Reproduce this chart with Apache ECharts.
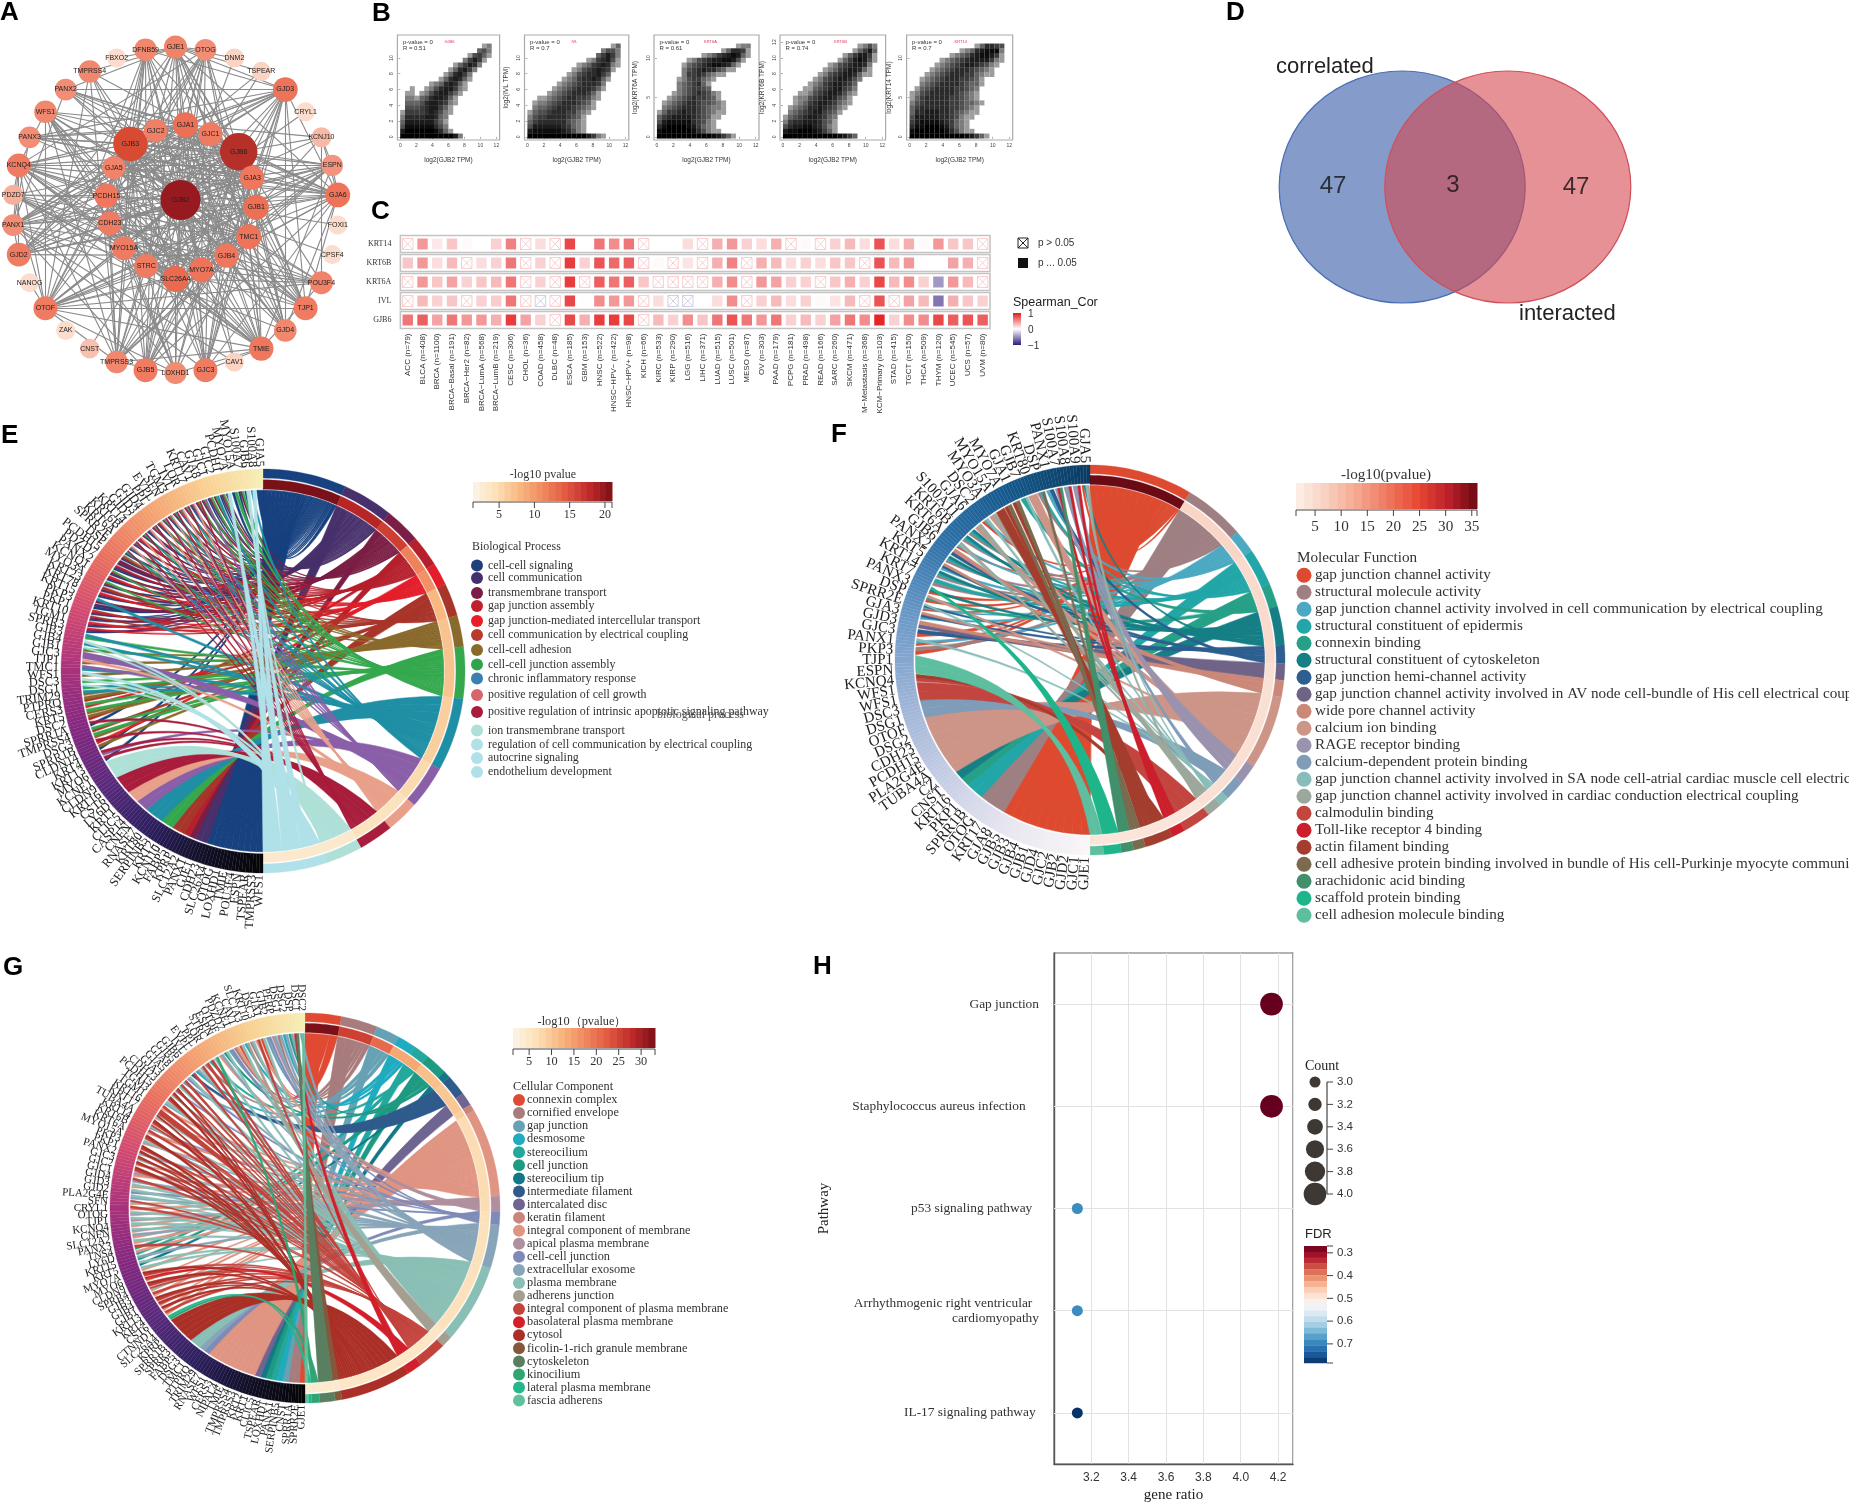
<!DOCTYPE html>
<html><head><meta charset="utf-8">
<style>html,body{margin:0;padding:0;background:#fff}#c{width:1849px;height:1504px}</style>
<script src="https://cdn.jsdelivr.net/npm/echarts@6/dist/echarts.min.js"></script>
</head><body><div id="c"></div>
<script>
/* ---------- PANEL A: network (hand-estimated) ---------- */
const outerNodes=['GJE1','OTOG','DNM2','TSPEAR','GJD3','CRYL1','KCNJ10','ESPN','GJA6','FOXI1','CPSF4','POU3F4','TJP1','GJD4','TMIE','CAV1','GJC3','LOXHD1','GJB5','TMPRSS3','CNST','ZAK','OTOF','NANOG','GJD2','PANX1','PDZD7','KCNQ4','PANX3','WFS1','PANX2','TMPRSS4','FBXO2','DFNB59'];
const outerDegree=[18,15,7,7,22,6,10,14,22,6,6,18,20,17,21,7,20,16,20,17,9,6,20,6,20,15,11,20,15,17,15,17,6,17];
const innerNodes=['GJB2','GJA1','GJC1','GJB6','GJA3','GJB1','TMC1','GJB4','MYO7A','SLC26A4','STRC','MYO15A','CDH23','PCDH15','GJA5','GJB3','GJC2'];
const innerDegree=[49,23,20,45,21,23,22,21,22,25,20,20,20,21,18,40,19];
const innerRadius=[11.2,85.6,83.4,86,83.2,80.7,78,68.4,65.4,69,63.2,64.3,67,70.5,74.8,80,81.8];
const innerAngle=[26.6,6.7,24.8,47.3,67.1,88.1,110,131.8,156.6,180,207.6,233.4,258.5,281.7,304.5,325.7,345.9];
const edgeTable=[
'GJB2 GJA1 GJC1 GJB6 GJA3 GJB1 TMC1 GJB4 MYO7A SLC26A4 STRC MYO15A CDH23 PCDH15 GJA5 GJB3 GJC2 GJE1 OTOG GJD3 CRYL1 KCNJ10 ESPN GJA6 POU3F4 TJP1 GJD4 TMIE GJC3 LOXHD1 GJB5 TMPRSS3 OTOF GJD2 PANX1 PDZD7 KCNQ4 PANX3 WFS1 PANX2 TMPRSS4 DFNB59 CNST FOXI1 CPSF4 CAV1 DNM2 TSPEAR',
'GJB6 GJA1 GJC1 GJA3 GJB1 TMC1 GJB4 MYO7A SLC26A4 STRC MYO15A CDH23 PCDH15 GJA5 GJB3 GJC2 GJE1 OTOG GJD3 KCNJ10 ESPN GJA6 POU3F4 TJP1 GJD4 TMIE GJC3 LOXHD1 GJB5 TMPRSS3 OTOF GJD2 PANX1 KCNQ4 PANX3 WFS1 PANX2 TMPRSS4 DFNB59 PDZD7',
'GJB3 GJA1 GJC1 GJA3 GJB1 TMC1 GJB4 MYO7A SLC26A4 STRC MYO15A CDH23 PCDH15 GJA5 GJC2 GJE1 GJD3 ESPN GJA6 TJP1 GJD4 TMIE GJC3 GJB5 OTOF GJD2 PANX1 KCNQ4 PANX3 WFS1 PANX2 TMPRSS4 TMPRSS3 DFNB59 OTOG',
'GJA1 GJC1 GJA3 GJB1 GJB4 GJA5 GJC2 GJE1 GJD3 GJA6 TJP1 GJD4 GJC3 GJB5 GJD2 PANX1 PANX3 PANX2 CAV1 KCNQ4 TMIE',
'GJC1 GJA3 GJB1 GJB4 GJA5 GJC2 GJE1 GJD3 GJA6 TJP1 GJD4 GJC3 GJB5 GJD2 PANX1 PANX2',
'GJA3 GJB1 GJB4 GJA5 GJC2 GJE1 GJD3 GJA6 TJP1 GJD4 GJC3 GJB5 GJD2 PANX1 PANX3',
'GJB1 GJB4 GJA5 GJC2 GJE1 GJD3 GJA6 TJP1 GJD4 GJC3 GJB5 GJD2 PANX1 PANX2 TMIE OTOF',
'TMC1 MYO7A SLC26A4 STRC MYO15A CDH23 PCDH15 TMIE LOXHD1 OTOF ESPN KCNQ4 POU3F4 TMPRSS3 WFS1 PDZD7 OTOG DFNB59',
'GJB4 GJA5 GJC2 GJE1 GJD3 GJA6 GJD4 GJC3 GJB5 GJD2 PANX1 TJP1',
'MYO7A SLC26A4 STRC MYO15A CDH23 PCDH15 TMIE LOXHD1 OTOF ESPN KCNQ4 POU3F4 TMPRSS3 WFS1 PDZD7 OTOG DFNB59 GJA6',
'SLC26A4 STRC MYO15A CDH23 PCDH15 TMIE LOXHD1 OTOF ESPN KCNQ4 POU3F4 TMPRSS3 WFS1 PDZD7 OTOG DFNB59 TMPRSS4 GJD3',
'STRC MYO15A CDH23 PCDH15 TMIE LOXHD1 OTOF ESPN KCNQ4 TMPRSS3 WFS1 OTOG DFNB59 PDZD7',
'MYO15A CDH23 PCDH15 TMIE LOXHD1 OTOF ESPN KCNQ4 POU3F4 TMPRSS3 WFS1 PDZD7 OTOG DFNB59',
'CDH23 PCDH15 TMIE LOXHD1 OTOF ESPN KCNQ4 POU3F4 TMPRSS3 WFS1 PDZD7 OTOG DFNB59 TJP1',
'PCDH15 TMIE LOXHD1 OTOF ESPN KCNQ4 TMPRSS3 WFS1 PDZD7 OTOG DFNB59 TSPEAR',
'GJA5 GJC2 GJE1 GJD3 GJA6 TJP1 GJD4 GJC3 GJB5 GJD2 PANX1',
'GJC2 GJE1 GJD3 GJA6 TJP1 GJD4 GJC3 GJB5 GJD2 PANX1 PANX2 PANX3',
'GJE1 GJD3 GJA6 GJD4 GJC3 GJB5 GJD2 GJE1 OTOG TSPEAR TMPRSS4',
'GJD3 GJA6 GJD4 GJC3 GJB5 GJD2 PANX1 PANX2 PANX3 TJP1 DFNB59',
'GJA6 GJD4 GJC3 GJB5 GJD2 PANX1 PANX3 TJP1 ESPN KCNJ10 OTOF KCNQ4',
'OTOF TMIE LOXHD1 ESPN KCNQ4 POU3F4 TMPRSS3 WFS1 PDZD7 OTOG DFNB59 TJP1 NANOG TMPRSS4',
'KCNQ4 TMIE LOXHD1 ESPN POU3F4 TMPRSS3 WFS1 PDZD7 OTOG PANX1 GJD2',
'TMIE LOXHD1 ESPN POU3F4 TMPRSS3 WFS1 PDZD7 OTOG DFNB59 GJC3',
'PANX1 PANX2 PANX3 GJD2 GJD4 GJC3 GJB5 TJP1 CAV1','TMPRSS3 TMPRSS4 LOXHD1 ESPN OTOG DFNB59 WFS1','KCNJ10 GJA6 POU3F4 ESPN WFS1 TMPRSS3','GJE1 GJC3 OTOG PANX2 FBXO2 DNM2 TSPEAR'
];
/* ---------- PANEL B: density of the point clouds, digit 0-9 per cell, rows listed top to bottom ---------- */
const bGenes=['GJB6','IVL','KRT6A','KRT6B','KRT14'];
const bR=['R = 0.51','R = 0.7','R = 0.61','R = 0.74','R = 0.7'];
const densityGJB6=['00000000000000000120','00000000000000003420','00000000000000145310','00000000000002575100','00000000000135762000','00000000001367520000','00000000013675200000','00000000136763100000','00000012367631000000','00100124677521000000','01101246775310000000','02213467763100000000','03334677652100000000','04445677531000000000','15555676421000000000','26666776320000000000','37777775310000000000','48888886420000000000','79999998631000000000','99999999999720000000'];
const densityIVL=['00000000000000000130','00000000000000024420','00000000000000357520','00000000000012567410','00000000001235676210','00000000012456765100','00000000124566753000','00000001235667631000','00000012345666520000','00000123456665310000','00001234566653100000','00112345665542100000','01223456665431000000','02334566654321000000','13445666553210000000','24556666543100000000','35666666432100000000','47777776532100000000','78888887642100000000','99999999999975210000'];
const densityKRT6A=['00000000000000001220','00000000000001366510','00000000012356787310','00000012456778874100','00000134567887631000','00000245676643110000','00000255653211000000','00001245532100000000','00002345631000000000','00002345543000000000','00012345654210000000','00123456554310000000','01234566544321000000','02345666543221000000','13556766543211000000','35677776543110000000','47888886542100000000','68999987532100000000','89999998642110000000','99999999999875310000'];
const densityKRT6B=['00000000000000012420','00000000000000135730','00000000000013577510','00000000000135787410','00000000012456776200','00000000123567763100','00000001245677631100','00000012456776420000','00000123567765300000','00001134567754200000','00011245677642100000','00122456776431000000','00123567765321000000','01234667654210000000','02345677543100000000','13456776532000000000','25667776431000000000','46778876421000000000','78899987531000000000','99999999999875300000'];
const densityKRT14=['00000000000001366540','00000000001236788820','00000000123467887510','00000012345677775210','00000123456776542100','00001234566654321000','00012345666553211000','00123456665543100000','00234566665433100000','01345666655432000000','12456666654321000000','13566666554321000000','24566666554332100000','35666666554321000000','36677766543211000000','47777766542110000000','57888876532100000000','68899987532100000000','89999998642110000000','99999999999875310000'];
const bDensity=[densityGJB6,densityIVL,densityKRT6A,densityKRT6B,densityKRT14];
/* ---------- PANEL C ---------- */
const cancers=['ACC (n=79)','BLCA (n=408)','BRCA (n=1100)','BRCA−Basal (n=191)','BRCA−Her2 (n=82)','BRCA−LumA (n=568)','BRCA−LumB (n=219)','CESC (n=306)','CHOL (n=36)','COAD (n=458)','DLBC (n=48)','ESCA (n=185)','GBM (n=153)','HNSC (n=522)','HNSC−HPV− (n=422)','HNSC−HPV+ (n=98)','KICH (n=66)','KIRC (n=533)','KIRP (n=290)','LGG (n=516)','LIHC (n=371)','LUAD (n=515)','LUSC (n=501)','MESO (n=87)','OV (n=303)','PAAD (n=179)','PCPG (n=181)','PRAD (n=498)','READ (n=166)','SARC (n=260)','SKCM (n=471)','M−Metastasis (n=368)','KCM−Primary (n=103)','STAD (n=415)','TGCT (n=150)','THCA (n=509)','THYM (n=120)','UCEC (n=545)','UCS (n=57)','UVM (n=80)'];
const cRows=['KRT14','KRT6B','KRT6A','IVL','GJB6'];
const corKRT14=[.05,.45,.1,.25,.02,0,.2,.55,.05,.15,.05,.8,0,.6,.5,.6,.05,0,0,.15,.02,.35,.45,.2,.15,.35,.1,.02,.05,.2,.3,.15,.75,.15,.35,.02,.45,.25,.25,.05];
const corKRT6B=[.25,.45,.15,.3,.08,.15,.2,.6,.05,.2,.1,.85,.2,.75,.65,.7,.05,.02,.05,.12,.03,.35,.55,.1,.35,.3,.15,.2,.15,.25,.25,.05,.75,.3,.45,.01,0,.4,.35,.08];
const corKRT6A=[.03,.45,.25,.4,.2,.25,.3,.6,.1,.2,.1,.85,.05,.7,.6,.7,.25,.02,.08,.05,.02,.35,.5,.15,.45,.4,.2,.2,.08,.25,.35,.2,.8,.3,.5,.2,-.45,.45,.3,.02];
const corIVL=[.03,.3,.2,.25,.05,.2,.22,.6,.03,-.05,.02,.8,.01,.5,.45,.45,.1,.15,-.1,-.1,0,.15,.5,.15,.2,.3,.15,.2,.02,.12,.3,.1,.75,.03,.4,.3,-.6,.35,.25,.2];
const corGJB6=[.6,.7,.4,.6,.45,.45,.35,.85,.4,.2,.05,.8,.35,.85,.85,.8,.03,.3,.2,.5,.25,.6,.75,.6,.45,.6,.2,.3,.2,.4,.6,.5,.95,.2,.5,.5,.8,.7,.75,.7];
const nsKRT14=[0,8,10,16,20,26,28,39];
const nsKRT6B=[4,8,10,16,18,20,23,31,39];
const nsKRT6A=[0,8,10,12,17,18,19,20,23,28,39];
const nsIVL=[0,4,8,9,10,16,18,19,23,31,33];
const nsGJB6=[10,16];
/* ---------- PANEL D ---------- */
const vennCenters=[[142.2,187],[247.8,187]];
const vennCounts=[47,3,47];
const vennCountAt=[[73,186],[193,185],[316,187]];
const vennNames=['correlated','interacted'];
/* ---------- PANEL E ---------- */
const legendE=['cell-cell signaling','cell communication','transmembrane transport','gap junction assembly','gap junction-mediated intercellular transport','cell communication by electrical coupling','cell-cell adhesion','cell-cell junction assembly','chronic inflammatory response','positive regulation of cell growth','positive regulation of intrinsic apoptotic signaling pathway','ion transmembrane transport','regulation of cell communication by electrical coupling','autocrine signaling','endothelium development'];
const legendColE=['#1e3f7a','#45306e','#7b1e45','#c0202c','#ec1c28','#b83a2d','#8a6a2c','#2fa34f','#3a7fb0','#d9646a','#a81c3c','#aee0d8','#b0e0e8','#b0e0e8','#b0e0e8'];
const ringColE=['#17417f','#47306b','#7b1e45','#b5202c','#e31e2a','#a8352a','#8a6a2c','#35a84e','#1f8fa5','#8a5fa8','#e8a08a','#a81c3c','#aee0d8','#b0e0e8','#b0e0e8','#b0e0e8'];
const spanE=[24,14.7,10.3,9,6.5,9.5,9,15,21,12.6,9.4,10,10.7,6.1,6.1,6.1];
const pvalE=[21,18,16,11,10,7,6,6,5,4,3,3,2,2,2,2];
const genesE=['WFS1','TMPRSS3','TSPEAR','ESPN','POU3F4','TMIE','LOXHD1','OTOG','SLC26A4','CDH23','GJE1','PANX1','SLC12A2','KPRP','FABP5','KCNJ10','KRT2','SERPINB5','KRT80','RNASE7','CNFN','CASP14','CLIC5','KRT1','LY6D','CST6','KRT16','CLDN9','KCNE1','MYO6','KRT13','KRT4','CLDN14','SPRR1B','DSG3','TMPRSS4','SPRR1A','DSC2','KRT5','CERS3','PTPRQ','TRIM29','DSG1','DSC3','WFS1','TMC1','TJP1','GJC3','GJB1','GJB4','GJB3','SPRR3','TGM1','KRT10','PKP1','PKP3','KRT15','KRT78','KRT23','MYO3A','KCNQ1','PANX2','PDZD7','PCDH15','DSP','SPRR2E','KRT6A','KRT6B','KRT14','GJD2','GJD3','GJD4','PPL','EVPL','SFN','TGM3','IVL','LOR','KRT17','CAV1','GJA8','GJC1','GJC2','PCDH1','MYO7A','MYO15A','S100A7','GJB6','S100A8','GJA5'];
const linksE=['0','0','0','0','0','0','0','0','0','1','1','2','3','5','5','7','7','8','8','8','9','9','a','a','b','b','b','c','c','c','0b','9b','06','4b','76','57','0b','36','67','47','56','68','78c','7c','6d','89','6a','9','67c','c8','78','0124','0134','0125','012345','01','28','0134','15','037','024','0137','0123','12','0256','0178b','0279a','138b','0345a','1278b','029a','1368b','0247a','1579b','0368a','1278b','0469a','2378b','0159a','1267b','1379','0157','278','0137','1ef','07','027','0cd','8ef','0'];
/* ---------- PANEL F ---------- */
const legendF=['gap junction channel activity','structural molecule activity','gap junction channel activity involved in cell communication by electrical coupling','structural constituent of epidermis','connexin binding','structural constituent of cytoskeleton','gap junction hemi-channel activity','gap junction channel activity involved in AV node cell-bundle of His cell electrical coupling','wide pore channel activity','calcium ion binding','RAGE receptor binding','calcium-dependent protein binding','gap junction channel activity involved in SA node cell-atrial cardiac muscle cell electrical coupling','gap junction channel activity involved in cardiac conduction electrical coupling','calmodulin binding','Toll-like receptor 4 binding','actin filament binding','cell adhesive protein binding involved in bundle of His cell-Purkinje myocyte communication','arachidonic acid binding','scaffold protein binding','cell adhesion molecule binding'];
const colF=['#dd4a30','#9e7f82','#4ba9c2','#22a6a8','#26a087','#157f85','#2c5f8f','#6f6488','#cb8879','#cd9488','#9b93ae','#7f9cb8','#88bcb8','#9da89c','#c34540','#cc1f2c','#a33d2d','#7a6a4e','#428f6c','#1eb58b','#5dbf9f'];
const spanF=[30.8,18.2,7,11,7,11.5,5.5,5,5,22,6,6,3,4.6,8.4,4,8.4,3.6,3.7,5.3,4];
const pvalF=[35,5,5,4,4,4,4,3,3,3,3,3,3,3,2,2,2,2,2,2,2];
const genesF=['GJE1','GJC1','GJD2','GJB2','GJC2','GJD4','GJB1','GJB4','GJB3','GJB5','GJA8','KRT17','OTOG','SPRR1B','PKP1','KRT16','CNST','CZ','TUBA4A','PLA2G4E','PCDH15','CDH23','DSG2','OTOF','DSG1','DSC3','WFS1','WFS1','KCNQ4','ESPN','TJP1','PKP3','PANX1','GJC3','GJD3','GJA3','SPRR2E','DSP','PANX3','KRT7','KRT14','KRT5','PANX2','GJB6','KRT6A','KRT6B','S100A11','GJA6','DSC2','MYO3A','MYO15A','MYO7A','GJA1','GJB7','KRT80','DSP','PANX1','S100A7','S100A8','S100A9','GJA5'];
const linksF=['0','0','0','0','0','0','0','0','0','0','1','1','1','3','3','4','5','9','9','9','9','9','9','9','b','b','e','e','eg','k','k','01','02c','06','78','268','026c','049','05j','13','135','268','135','68','02cd','135','135','9d','02c','9d','g','gh','gh','34c','9','13h','26','aif','abf','abf','05cd'];
/* ---------- PANEL G ---------- */
const legendG=['connexin complex','cornified envelope','gap junction','desmosome','stereocilium','cell junction','stereocilium tip','intermediate filament','intercalated disc','keratin filament','integral component of membrane','apical plasma membrane','cell-cell junction','extracellular exosome','plasma membrane','adherens junction','integral component of plasma membrane','basolateral plasma membrane','cytosol','ficolin-1-rich granule membrane','cytoskeleton','kinocilium','lateral plasma membrane','fascia adherens'];
const colG=['#e04a32','#a87c7c','#66a2b4','#1fabc0','#22a89c','#1f9a82','#127787','#2f5b8c','#6f6590','#c9867c','#e09482','#b08f9f','#7e8bb8','#87a4b8','#8abfb5','#a59f92','#c2433c','#d21f2a','#aa2f26','#85583c','#5a7f60','#2fa574','#25b68c','#63c09d'];
const spanG=[10.8,10.9,7,5.7,4.6,6.6,2.1,6.3,4,2,26.5,4.5,4,13,23.5,3.5,8.6,4.4,21,2,4.6,2.4,1,1];
const pvalG=[33,25,20,13,13,10,10,9,9,8,6,6,5,5,5,4,4,4,4,3,3,3,3,3];
const genesG=['GJE1','SPRR2E','SPRR1A','CNST','SERPINB5','PANX1','LOXHD1','TSPEAR','CLIC5','KRT1','KRT2','TMPRSS3','TMPRSS4','TMIE','NIPAL4','CERS3','WFS1','RNASE7','TRIM29','PTPRQ','TMC1','DSG3','FABP5','SPRR3','SPRR1B','KPRP','SLC26A4','CTNND1','CST6','KRT4','KRT13','GJB1','GJB4','GJB3','SPRR4','CLDN9','MYO6','MYO7A','KRT5','KRT15','LY6D','TNS4','PANX3','SLC12A2','CNFN','KCNQ4','TJP1','OTOG','CRYL1','SFN','PLA2G4E','GJD2','GJD3','GJD4','GJC1','GJC2','GJC3','PANX2','PKP1','PKP3','MYO15A','KRT6A','KRT6B','KRT14','TUBA4A','KRT17','KRT16','TGM1','TGM3','PCDH15','CDH23','GJA3','GJA5','GJA8','GJB5','GJB6','IVL','EVPL','PPL','LOR','STRC','ESPN','OTOF','PDZD7','KCNE1','CAV1','SLC1A3','KRT10','DSC3','GJA1','GJB2','PERP','DSG1','DSG2','DSP','DSC1','DSC2'];
const linksG=['0','1','1','2','3','4','5','6','8','a','a','a','a','a','a','a','a','a','c','d','e','e','i','i','i','i','i','lm','ga','ia','agi','gi','ag','age','ig','agh','ig','ae','6e','5d','4a','5g','ae','ad','ade','ae','be','ade','ag','aeg','de','ce','ae','dg','ab','gi','agi','gie','di','gi','ade','gi','ag','cge','gi','aei','g','ag','de','gi','gei','cgi','eg','2g','ce','7g','3d','ge','1g','4g','le','ad','5e','2c','1a','0e','3f','1ed','ag','0e','2c','bd','1d','3d','5d','hjk','nd'];
/* ---------- PANEL H ---------- */
const pathways=['Gap junction','Staphylococcus aureus infection    ','p53 signaling pathway  ','Arrhythmogenic right ventricular  \ncardiomyopathy','IL-17 signaling pathway '];
const geneRatio=[4.165,4.165,3.125,3.125,3.125];
const pathwayCount=[4,4,3,3,3];
const pathwayFDR=[.27,.27,.69,.69,.78];
const countLegend=[3.0,3.2,3.4,3.6,3.8,4.0];
const fdrTicks=[.3,.4,.5,.6,.7];

/* ---------- helpers ---------- */
const SERIF='"Liberation Serif"',SANS='"Liberation Sans"';
function hex(c){return [1,3,5].map(i=>parseInt(c.substr(i,2),16));}
function ramp(stops,t){t=Math.max(0,Math.min(1,t));const p=t*(stops.length-1),i=Math.min(stops.length-2,Math.floor(p)),f=p-i;const a=hex(stops[i]),b=hex(stops[i+1]);return 'rgb('+a.map((v,k)=>Math.round(v+(b[k]-v)*f)).join(',')+')';}
const G=[];
function text(x,y,s,font,fill,align,rot){G.push({type:'text',x,y,rotation:rot||0,silent:true,z:20,style:{text:s,font,fill:fill||'#222',textAlign:align||'left',textVerticalAlign:'middle',align:align||'left',verticalAlign:'middle'}});}
function rect(x,y,w,h,fill,stroke,lw){G.push({type:'rect',silent:true,z:19,shape:{x,y,width:w,height:h},style:{fill:fill||'none',stroke:stroke||'none',lineWidth:lw||0}});}
function line(x1,y1,x2,y2,c,lw){G.push({type:'line',silent:true,z:19,shape:{x1,y1,x2,y2},style:{stroke:c||'#333',lineWidth:lw||1}});}
function dot(x,y,r,c){G.push({type:'circle',silent:true,z:19,shape:{cx:x,cy:y,r},style:{fill:c}});}
function colorbar(o){const n=22,w=(o.x1-o.x0)/n;for(let i=0;i<n;i++)rect(o.x0+i*w,o.y0,w+.5,o.y1-o.y0,ramp(o.stops,(i+.5)/n));
 line(o.x0,o.y1+1,o.x1,o.y1+1,'#444',1);const px=v=>o.x0+(v-o.vmin)/(o.vmax-o.vmin)*(o.x1-o.x0);
 line(o.x0,o.y1+1,o.x0,o.y1+7,'#444',1);line(o.x1,o.y1+1,o.x1,o.y1+7,'#444',1);
 o.ticks.forEach(v=>{line(px(v),o.y1+1,px(v),o.y1+7,'#444',1);text(px(v),o.labelY,String(v),o.font,'#333','center');});
 text(o.titleX,o.titleY,o.title,o.font,'#333','center');}
function legendList(o){text(o.x,o.titleY,o.title,o.font,'#333');o.names.forEach((s,i)=>{const y=o.ys[i];dot(o.mx,y,o.r,o.cols[i]);text(o.tx,y+(o.dy||0),s,o.font,'#333');});}

/* chord layout: gene and term arcs derive only from the tables above */
function buildChord(genes,links,spans){
 const n=genes.length,unit=180/n,sum=spans.reduce((a,b)=>a+b,0);
 const byTerm=spans.map(()=>[]);
 links.forEach((s,i)=>{if(i>=n)return;s.split('').map(c=>parseInt(c,36)).sort((a,b)=>a-b).forEach((t,k,arr)=>{byTerm[t].push({gene:i,k,m:arr.length});});});
 const out=[],arcs=[];let start=0;
 spans.forEach((sp,t)=>{const deg=sp/sum*180;arcs.push([start,start+deg]);
  const tot=byTerm[t].reduce((a,l)=>a+1/l.m,0);let b=start;
  byTerm[t].forEach(l=>{const db=deg*(1/l.m)/tot,pad=l.m>1?unit*.09:0,w=(unit-2*pad)/l.m,a1=180+l.gene*unit+pad+l.k*w;
   out.push({a1,a2:a1+w,b1:b,b2:b+db,t});b+=db;});
  start+=deg;});
 return {out,arcs,unit};
}
function arcPts(api,r,a1,a2){const n=Math.max(1,Math.ceil(Math.abs(a2-a1)/1.5)),p=[];for(let i=0;i<=n;i++)p.push(api.coord([r,a1+(a2-a1)*i/n]));return p;}
function chordSeries(o){
 const {out,arcs,unit}=buildChord(o.genes,o.links,o.spans),R=o.R;
 const r0=R*.895,pmax=Math.max(...o.pvals),K=.3;
 const base={type:'custom',coordinateSystem:'polar',polarIndex:o.polar,silent:true,animation:false,clip:false};
 const ids=n=>Array.from({length:n},(_,i)=>[0,0,i]);
 const ring=(api,a,b,r1,r2,c)=>({type:'polygon',shape:{points:arcPts(api,r2,a,b).concat(arcPts(api,r1,b,a))},style:{fill:c,stroke:c,lineWidth:.3}});
 return [
  Object.assign({},base,{z:2,data:ids(out.length),renderItem(p,api){const l=out[p.dataIndex];const c=api.coord([0,0]);
    const A=arcPts(api,r0,l.a1,l.a2),B=arcPts(api,r0,l.b1,l.b2);
    const ctrl=(u,v)=>[c[0]+K*((u[0]+v[0])/2-c[0]),c[1]+K*((u[1]+v[1])/2-c[1])];
    const A2=A[A.length-1],B2=B[B.length-1],c1=ctrl(A2,B[0]),c2=ctrl(B2,A[0]);
    let d='M'+A[0][0]+' '+A[0][1];A.slice(1).forEach(q=>d+='L'+q[0]+' '+q[1]);
    d+='Q'+c1[0]+' '+c1[1]+' '+B[0][0]+' '+B[0][1];B.slice(1).forEach(q=>d+='L'+q[0]+' '+q[1]);
    d+='Q'+c2[0]+' '+c2[1]+' '+A[0][0]+' '+A[0][1]+'Z';
    const col=o.ringCols[l.t];
    return {type:'path',shape:{pathData:d},style:{fill:col,stroke:col,lineWidth:.5}};}}),
  Object.assign({},base,{z:3,data:ids(arcs.length*2),renderItem(p,api){const i=p.dataIndex,t=i%arcs.length,[a,b]=arcs[t];
    return i<arcs.length?ring(api,a,b,R*.955,R,o.ringCols[t]):ring(api,a,b,R*.9,R*.947,ramp(o.pStops,o.pvals[t]/pmax));}}),
  Object.assign({},base,{z:3,data:ids(180),renderItem(p,api){const i=p.dataIndex;return ring(api,360-i-1,360-i,R*.905,R,ramp(o.leftStops,(i+.5)/180));}}),
  Object.assign({},base,{z:4,data:ids(o.genes.length),renderItem(p,api){const i=p.dataIndex,th=180+(i+.5)*unit,q=api.coord([R+2,th]);
    return {type:'text',x:q[0],y:q[1],rotation:(270-th)*Math.PI/180,style:{text:o.genes[i],font:o.labelFont,fill:'#222',textAlign:'right',textVerticalAlign:'middle',align:'right',verticalAlign:'middle'}};}})
 ];
}

/* ---------- panel letters ---------- */
[['A',0,13],['B',372,14],['C',371,212],['D',1226,13],['E',1,436],['F',831,435],['G',3,968],['H',813,967]].forEach(a=>text(a[1],a[2],a[0],'bold 26px '+SANS,'#000'));

/* ---------- A: graph on a polar system ---------- */
const nodeCol=['#fbdccd','#f29078','#ec6f55','#e2593f','#d84a32','#971a20'];
const aSize=d=>19+21*Math.pow((d-6)/43,1.3);
const aNode=(name,deg,r,ang)=>({name,value:[r,ang],symbolSize:aSize(deg),itemStyle:{color:ramp(nodeCol,(deg-6)/43)}});
const aNodes=outerNodes.map((n,i)=>aNode(n,outerDegree[i],163,i*360/outerNodes.length)).concat(innerNodes.map((n,i)=>aNode(n,innerDegree[i],innerRadius[i],innerAngle[i])));
const known=new Set(aNodes.map(n=>n.name)),seen=new Set(),aLinks=[];
edgeTable.forEach(row=>{const [s,...ts]=row.split(' ');ts.forEach(t=>{const k=[s,t].sort().join('|');if(s!==t&&known.has(s)&&known.has(t)&&!seen.has(k)){seen.add(k);aLinks.push({source:s,target:t});}});});

/* ---------- B + C + D + H axes ---------- */
const grids=[],xAxes=[],yAxes=[],series=[];
const bLeft=[397.4,524.5,654,780,906.6],bRight=[499.6,628.8,759,885.6,1012.7];
const bYTicks=[[0,2,4,6,8,10],[0,2,4,6,8,10],[0,5,10],[0,2,4,6,8,10,12],[0,5,10]];
const bGap=[0,15,15,14,14];
const bRed=[47,47,50,54,48];
const bCellX=.6,bCellY=.6;
bGenes.forEach((g,i)=>{
 grids.push({left:bLeft[i],top:35,width:bRight[i]-bLeft[i],height:105,show:true,borderColor:'#aaa',borderWidth:1.2,backgroundColor:'#fff'});
 const ticks=[0,2,4,6,8,10,12];
 xAxes.push({gridIndex:i,type:'value',min:-.36,max:12.4,name:'log2(GJB2 TPM)',nameLocation:'middle',nameGap:17,nameTextStyle:{fontSize:6.5,fontFamily:SANS,color:'#333'},splitLine:{show:false},axisLine:{show:false},axisTick:{length:2,lineStyle:{color:'#777',width:.6},customValues:ticks},axisLabel:{fontSize:5,margin:3,color:'#444',fontFamily:SANS,customValues:ticks}});
 yAxes.push({gridIndex:i,type:'value',min:-.4,max:12.9,name:i?'log2('+g+' TPM)':'',nameLocation:'middle',nameGap:bGap[i],nameTextStyle:{fontSize:6.5,fontFamily:SANS,color:'#333'},splitLine:{show:false},axisLine:{show:false},axisTick:{length:2,lineStyle:{color:'#777',width:.6},customValues:bYTicks[i]},axisLabel:{fontSize:5,margin:3,rotate:90,color:'#444',fontFamily:SANS,customValues:bYTicks[i]}});
 const pts=[];bDensity[i].forEach((row,r)=>{const yr=bDensity[i].length-1-r;row.split('').forEach((ch,c)=>{const d=+ch;if(d)pts.push([(c+.5)*bCellX,yr*bCellY+.1,d]);});});
 series.push({type:'scatter',xAxisIndex:i,yAxisIndex:i,symbol:'rect',symbolSize:[5,5],silent:true,animation:false,large:false,data:pts,itemStyle:{opacity:1,color:p=>{const v=Math.round(235*(1-Math.pow(p.value[2]/9,.5)));return 'rgb('+v+','+v+','+v+')';}}});
 text(bLeft[i]+5.5,42,'p-value = 0','6px '+SANS,'#333');
 text(bLeft[i]+5.5,48.5,bR[i],'6px '+SANS,'#333');
 text(bLeft[i]+bRed[i],42,g,'4px '+SANS,'#e0305a');
});
/* C */
const cCor=[corKRT14,corKRT6B,corKRT6A,corIVL,corGJB6],cNs=[nsKRT14,nsKRT6B,nsKRT6A,nsIVL,nsGJB6];
const cStops=['#2d1a7c','#ffffff','#e41a1c'];
grids.push({left:400.4,top:234.5,width:589.6,height:95});
xAxes.push({gridIndex:5,type:'category',data:cancers,axisLine:{show:false},axisTick:{show:false},axisLabel:{rotate:90,interval:0,fontSize:8,margin:4,color:'#333',fontFamily:SANS}});
yAxes.push({gridIndex:5,type:'category',inverse:true,data:cRows,axisLine:{show:false},axisTick:{show:false},axisLabel:{fontSize:8,margin:9,color:'#333',fontFamily:SERIF}});
const cData=[];cCor.forEach((row,r)=>row.forEach((v,c)=>cData.push([c,r,v,cNs[r].includes(c)?1:0])));
series.push({type:'custom',xAxisIndex:5,yAxisIndex:5,silent:true,animation:false,data:cRows.map((_,r)=>[0,r]),z:2,renderItem(p,api){const q=api.coord([0,api.value(1)]),cs=p.coordSys;return {type:'rect',shape:{x:cs.x,y:q[1]-8.5,width:cs.width,height:17},style:{fill:'#fff',stroke:'#c4c4c4',lineWidth:1.6}};}});
series.push({type:'custom',xAxisIndex:5,yAxisIndex:5,silent:true,animation:false,data:cData,z:3,renderItem(p,api){
  const q=api.coord([api.value(0),api.value(1)]),v=api.value(2),ns=api.value(3),w=10.4,h=11,x=q[0]-w/2,y=q[1]-h/2;
  if(!ns)return {type:'rect',shape:{x,y,width:w,height:h},style:{fill:ramp(cStops,(v+1)/2)}};
  const s=ramp(cStops,(Math.sign(v||1)*Math.max(Math.abs(v),.26)+1)/2);
  return {type:'group',children:[{type:'rect',shape:{x,y,width:w,height:h},style:{fill:'none',stroke:s,lineWidth:.8}},{type:'line',shape:{x1:x,y1:y,x2:x+w,y2:y+h},style:{stroke:s,lineWidth:.8}},{type:'line',shape:{x1:x+w,y1:y,x2:x,y2:y+h},style:{stroke:s,lineWidth:.8}}]};}});
rect(1018,238,10,10,'#fff','#222',1);line(1018,238,1028,248,'#222',1);line(1028,238,1018,248,'#222',1);
rect(1018,258,10,10,'#111');
text(1038,243,'p > 0.05','10px '+SANS,'#333');text(1038,263,'p ... 0.05','10px '+SANS,'#333');
text(1013,303,'Spearman_Cor','12.5px '+SANS,'#222');
G.push({type:'rect',silent:true,z:19,shape:{x:1013,y:313,width:8,height:32},style:{fill:{type:'linear',x:0,y:0,x2:0,y2:1,colorStops:[{offset:0,color:'#e41a1c'},{offset:.5,color:'#fff'},{offset:1,color:'#2d1a7c'}]}}});
text(1028,314,'1','10px '+SANS,'#333');text(1028,330,'0','10px '+SANS,'#333');text(1028,346,'−1','10px '+SANS,'#333');
/* D */
grids.push({left:1260,top:0,width:400,height:340});
xAxes.push({gridIndex:6,type:'value',min:0,max:400,show:false});
yAxes.push({gridIndex:6,type:'value',min:0,max:340,inverse:true,show:false});
series.push({type:'scatter',xAxisIndex:6,yAxisIndex:6,silent:true,animation:false,symbol:'circle',symbolSize:[246,232],data:[vennCenters[0]],itemStyle:{opacity:1,color:'rgba(52,88,165,.6)',borderColor:'#4a6fb5',borderWidth:1.2},z:2});
series.push({type:'scatter',xAxisIndex:6,yAxisIndex:6,silent:true,animation:false,symbol:'circle',symbolSize:[246,232],data:[vennCenters[1]],itemStyle:{opacity:1,color:'rgba(214,72,80,.6)',borderColor:'#d0505a',borderWidth:1.2},z:3});
series.push({type:'scatter',xAxisIndex:6,yAxisIndex:6,silent:true,animation:false,symbolSize:0,z:4,data:vennCountAt.map((q,i)=>({value:q,label:{show:true,position:'inside',formatter:String(vennCounts[i]),fontSize:24,fontFamily:SANS,color:'#111'}}))});
text(1276,67,vennNames[0],'22px '+SANS,'#222');text(1519,314,vennNames[1],'22px '+SANS,'#222');
/* H */
const rdbu=['#67001f','#b2182b','#d6604d','#f4a582','#fddbc7','#f7f7f7','#d1e5f0','#92c5de','#4393c3','#2166ac','#053061'];
const fdrMin=.27,fdrMax=.784,fdrT=f=>(f-fdrMin)/(fdrMax-fdrMin);
const hSize=c=>11+(c-3)*11.7;
grids.push({left:1054,top:953,width:239,height:513,show:true,borderColor:'#666',borderWidth:1.2});
xAxes.push({gridIndex:7,type:'value',min:3,max:4.28,interval:.2,name:'gene ratio',nameLocation:'middle',nameGap:24,nameTextStyle:{fontFamily:SERIF,fontSize:15,color:'#222'},splitLine:{show:true,lineStyle:{color:'#e2e2e2'}},axisLine:{show:true,lineStyle:{color:'#555',width:1.4}},axisTick:{length:6,lineStyle:{color:'#555'}},axisLabel:{fontSize:12,margin:8,color:'#333',fontFamily:SANS,formatter:v=>(v<3.1||v>4.25)?'':v.toFixed(1)}});
yAxes.push({gridIndex:7,type:'category',inverse:true,data:pathways,name:'Pathway',nameLocation:'middle',nameGap:222,nameTextStyle:{fontFamily:SERIF,fontSize:15,color:'#222'},splitLine:{show:false},axisLine:{show:true,lineStyle:{color:'#555',width:1.4}},axisTick:{length:6,alignWithLabel:true,lineStyle:{color:'#444'}},axisLabel:{fontSize:13.4,margin:15,color:'#333',fontFamily:SERIF,lineHeight:15}});
series.push({type:'scatter',xAxisIndex:7,yAxisIndex:7,silent:true,animation:false,z:6,data:pathways.map((_,i)=>[geneRatio[i],i,pathwayCount[i],pathwayFDR[i]]),symbolSize:v=>hSize(v[2]),itemStyle:{opacity:1,color:p=>ramp(rdbu,fdrT(p.value[3]))},
 markLine:{silent:true,symbol:'none',animation:false,label:{show:false},lineStyle:{color:'#e2e2e2',width:1,type:'solid'},data:pathways.map((_,i)=>({yAxis:i}))}});
text(1305,1066,'Count','14px '+SERIF,'#222');
const cy=v=>1082+(v-3)/.2*22.4;
line(1327,cy(3),1327,cy(4),'#444',1.2);
countLegend.forEach(v=>{dot(1315,cy(v),hSize(v)/2,'#3d3833');line(1327,cy(v),1333,cy(v),'#444',1);text(1337,cy(v),v.toFixed(1),'11.5px '+SANS,'#333');});
text(1305,1234,'FDR','13px '+SANS,'#222');
for(let i=0;i<20;i++)rect(1304,1246+i*5.85,23,6.1,ramp(rdbu,(i+.5)/20));
line(1327,1246,1333,1246,'#444',1);line(1327,1363,1333,1363,'#444',1);
fdrTicks.forEach(v=>{const y=1246+fdrT(v)*117;line(1327,y,1333,y,'#444',1);text(1337,y,v.toFixed(1),'11.5px '+SANS,'#333');});

/* ---------- chords ---------- */
const warm=['#fdf5e8','#fce0b8','#f8b880','#f08a60','#e05a40','#c02a2a','#7a1018'];
const warmF=['#fdf0e8','#f8d0c0','#f5a890','#ee7a60','#e84a35','#c02028','#6a0a14'];
const magma=['#f6efb8','#f8cf90','#f4a070','#e8705f','#d24a70','#a8327c','#82287f','#5a2a7c','#2e2060','#111028','#050505'];
const blues=['#0a3a60','#15598c','#2f72a8','#6c9ac8','#9db3d6','#c5cde4','#e8e6f0','#faf6f8'];
series.push(...chordSeries({polar:1,R:202,genes:genesE,links:linksE,spans:spanE,ringCols:ringColE,pvals:pvalE,pStops:warm,leftStops:magma,labelFont:'12.5px '+SERIF}));
series.push(...chordSeries({polar:2,R:195,genes:genesF,links:linksF,spans:spanF,ringCols:colF,pvals:pvalF,pStops:warmF,leftStops:blues,labelFont:'15px '+SERIF}));
series.push(...chordSeries({polar:3,R:195,genes:genesG,links:linksG,spans:spanG,ringCols:colG,pvals:pvalG,pStops:warm,leftStops:magma,labelFont:'11px '+SERIF}));

colorbar({x0:473,x1:612,y0:482,y1:501,vmin:1.3,vmax:21,ticks:[5,10,15,20],stops:warm,title:'-log10 pvalue',titleX:543,titleY:475,labelY:515,font:'12px '+SERIF});
legendList({names:legendE,cols:legendColE,title:'Biological Process',x:472,titleY:547,mx:477,tx:488,r:6,font:'11.9px '+SERIF,ys:[565.5,578,593,606,621,635,650,664.5,678.5,695,712,730.5,744.5,758,772]});
text(657,715,'biological process','12px '+SERIF,'#555');
colorbar({x0:1296,x1:1477,y0:483,y1:509,vmin:1.35,vmax:36,ticks:[5,10,15,20,25,30,35],stops:warmF,title:'-log10(pvalue)',titleX:1386,titleY:475,labelY:527,font:'15.2px '+SERIF});
legendList({names:legendF,cols:colF,title:'Molecular Function',x:1297,titleY:558,mx:1304,tx:1315,r:7.5,font:'15.2px '+SERIF,ys:legendF.map((_,i)=>575.2+17*i)});
colorbar({x0:513,x1:655,y0:1028,y1:1048,vmin:1.4,vmax:33.1,ticks:[5,10,15,20,25,30],stops:warm,title:'-log10（pvalue）',titleX:582,titleY:1022,labelY:1062,font:'12.3px '+SERIF});
legendList({names:legendG,cols:colG,title:'Cellular Component',x:513,titleY:1086.5,mx:519,tx:527,r:6,font:'12.3px '+SERIF,ys:legendG.map((_,i)=>1100+13.07*i)});

series.push({type:'graph',coordinateSystem:'polar',polarIndex:0,layout:'none',silent:true,animation:false,z:2,data:aNodes,links:aLinks,
 lineStyle:{color:'#8a8a8a',width:1.1,opacity:1,curveness:0},label:{show:true,position:'inside',fontSize:7,color:'#222',fontFamily:SANS},emphasis:{disabled:true}});

const chart=echarts.init(document.getElementById('c'),null,{renderer:'canvas',width:1849,height:1504});
chart.setOption({backgroundColor:'#fff',animation:false,tooltip:{show:false},
 grid:grids,xAxis:xAxes,yAxis:yAxes,
 polar:[{center:[175.5,210],radius:[0,170]},{center:[263,671],radius:[0,202]},{center:[1090,660],radius:[0,195]},{center:[305,1208],radius:[0,195]}],
 radiusAxis:[[0,170],[1,202],[2,195],[3,195]].map(a=>({polarIndex:a[0],type:'value',min:0,max:a[1],show:false})),
 angleAxis:[0,1,2,3].map(i=>({polarIndex:i,type:'value',min:0,max:360,startAngle:90,clockwise:true,show:false})),
 series,graphic:{elements:G}});
</script></body></html>
